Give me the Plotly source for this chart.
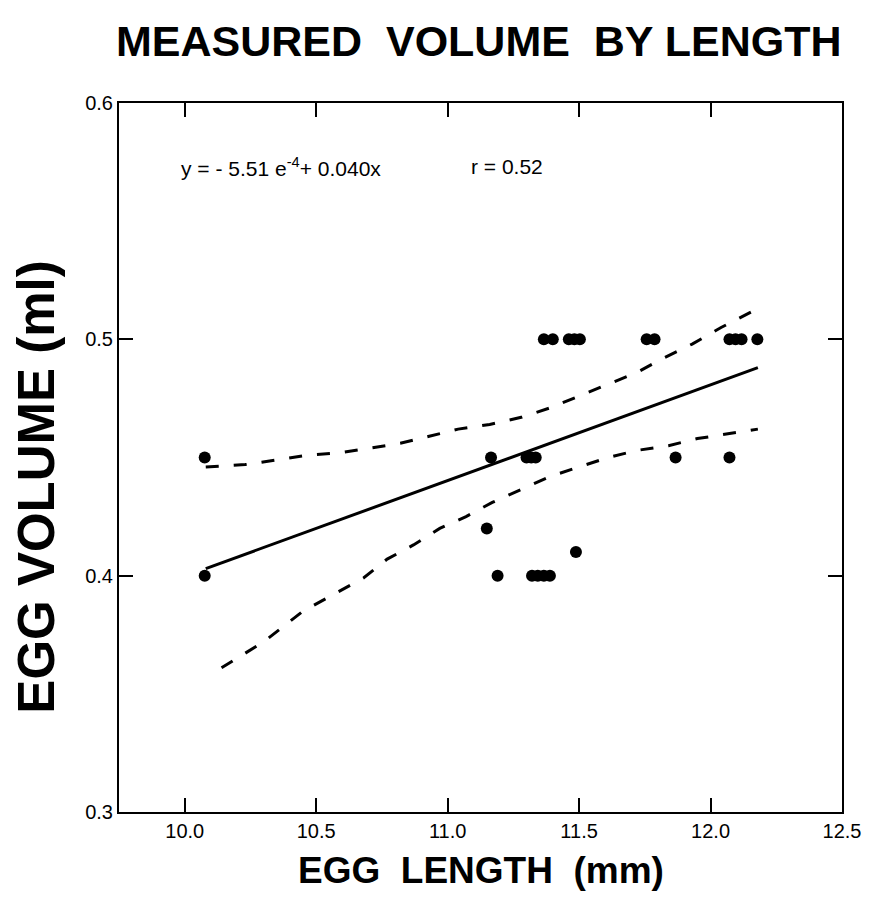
import plotly.graph_objects as go

# ---- data ----
egg_length = [10.076, 10.076,
              11.149, 11.165, 11.190,
              11.300, 11.318, 11.335,
              11.321, 11.343, 11.366, 11.389,
              11.488,
              11.366, 11.400, 11.461, 11.482, 11.503,
              11.757, 11.787,
              11.867,
              12.072,
              12.072, 12.095, 12.118, 12.178]
egg_volume = [0.45, 0.40,
              0.42, 0.45, 0.40,
              0.45, 0.45, 0.45,
              0.40, 0.40, 0.40, 0.40,
              0.41,
              0.50, 0.50, 0.50, 0.50, 0.50,
              0.50, 0.50,
              0.45,
              0.45,
              0.50, 0.50, 0.50, 0.50]

fit_x = [10.08, 12.18]
fit_y = [0.403, 0.488]

upper_x = [10.08, 10.23, 10.35, 10.47, 10.59, 10.70, 10.82, 10.93, 11.04, 11.16,
           11.28, 11.39, 11.50, 11.61, 11.72, 11.82, 11.93, 12.04, 12.18]
upper_y = [0.446, 0.447, 0.449, 0.451, 0.452, 0.454, 0.456, 0.459, 0.462, 0.464,
           0.467, 0.471, 0.476, 0.481, 0.486, 0.492, 0.498, 0.505, 0.513]

lower_x = [10.14, 10.30, 10.45, 10.58, 10.68, 10.77, 10.87, 10.97, 11.07, 11.17,
           11.27, 11.39, 11.50, 11.61, 11.72, 11.84, 11.95, 12.07, 12.18]
lower_y = [0.361, 0.372, 0.385, 0.393, 0.399, 0.407, 0.413, 0.420, 0.425, 0.431,
           0.436, 0.442, 0.446, 0.450, 0.453, 0.455, 0.458, 0.460, 0.462]

x_ticks = [10.0, 10.5, 11.0, 11.5, 12.0, 12.5]
x_tick_labels = ["10.0", "10.5", "11.0", "11.5", "12.0", "12.5"]
y_ticks = [0.3, 0.4, 0.5, 0.6]
y_tick_labels = ["0.3", "0.4", "0.5", "0.6"]

title_text = "MEASURED\u00a0 VOLUME\u00a0 BY LENGTH"
x_title = "EGG\u00a0 LENGTH\u00a0 (mm)"
y_title = "EGG VOLUME (ml)"
eq_text = "y = - 5.51 e<sup>-4</sup>+ 0.040x"
r_text = "r = 0.52"

ARIAL = "Arial, Liberation Sans, Helvetica, sans-serif"

fig = go.Figure()
fig.add_trace(go.Scatter(x=upper_x, y=upper_y, mode="lines",
                         line=dict(color="black", width=3, dash="13px,15px"),
                         hoverinfo="skip", showlegend=False))
fig.add_trace(go.Scatter(x=lower_x, y=lower_y, mode="lines",
                         line=dict(color="black", width=3, dash="13px,15px"),
                         hoverinfo="skip", showlegend=False))
fig.add_trace(go.Scatter(x=fit_x, y=fit_y, mode="lines",
                         line=dict(color="black", width=3),
                         hoverinfo="skip", showlegend=False))
fig.add_trace(go.Scatter(x=egg_length, y=egg_volume, mode="markers",
                         marker=dict(color="black", size=12, line=dict(width=0)),
                         showlegend=False))

axis_common = dict(showline=True, linewidth=2, linecolor="black", mirror="ticks",
                   ticks="inside", ticklen=14, tickwidth=2, tickcolor="black",
                   showgrid=False, zeroline=False,
                   tickfont=dict(family=ARIAL, size=20, color="black"))

fig.update_xaxes(range=[9.75, 12.5], tickvals=x_ticks, ticktext=x_tick_labels,
                 **axis_common)
fig.update_yaxes(range=[0.3, 0.6], tickvals=y_ticks, ticktext=y_tick_labels,
                 **axis_common)

fig.update_layout(
    width=873, height=899,
    margin=dict(l=119, r=28, t=103, b=87),
    paper_bgcolor="white", plot_bgcolor="white",
    showlegend=False,
    annotations=[
        dict(text=title_text, xref="paper", yref="paper", x=0.497, y=1.0875,
             xanchor="center", yanchor="middle", showarrow=False,
             font=dict(family=ARIAL, size=43, color="black", weight="bold")),
        dict(text=x_title, xref="paper", yref="paper", x=0.5, y=-0.083,
             xanchor="center", yanchor="middle", showarrow=False,
             font=dict(family=ARIAL, size=37, color="black", weight="bold")),
        dict(text=y_title, xref="paper", yref="paper", x=-0.1143, y=0.458,
             xanchor="center", yanchor="middle", showarrow=False, textangle=-90,
             font=dict(family=ARIAL, size=51, color="black", weight="bold")),
        dict(text=eq_text, xref="x", yref="y", x=9.98, y=0.573,
             xanchor="left", yanchor="middle", showarrow=False,
             font=dict(family=ARIAL, size=21, color="black")),
        dict(text=r_text, xref="x", yref="y", x=11.08, y=0.573,
             xanchor="left", yanchor="middle", showarrow=False,
             font=dict(family=ARIAL, size=21, color="black")),
    ],
)

fig.write_html("out.html")
